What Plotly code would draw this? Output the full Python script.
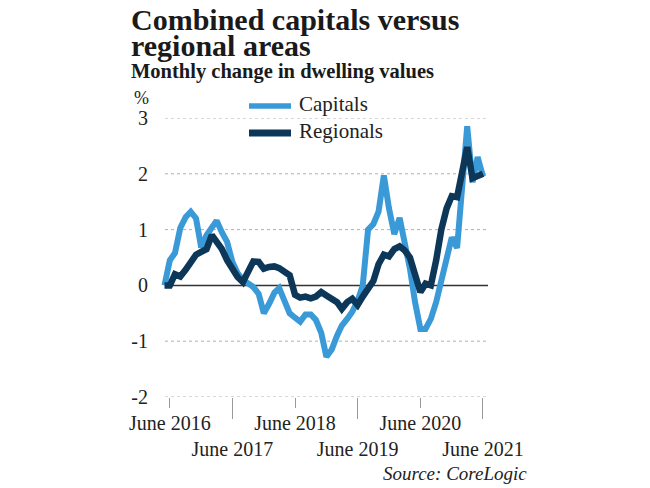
import plotly.graph_objects as go
import pandas as pd

# ---- data (monthly % change, May 2016 - June 2021) ----
start_month = "2016-05-01"
n_months = 62
capitals = [0.0, 0.45, 0.58, 1.03, 1.22, 1.32, 1.2, 0.68, 0.9, 1.03,
            1.16, 0.95, 0.78, 0.42, 0.22, 0.1, 0.03, -0.03, -0.15, -0.5,
            -0.33, -0.13, -0.05, -0.25, -0.5, -0.58, -0.65, -0.52, -0.52, -0.62,
            -0.85, -1.28, -1.15, -0.9, -0.72, -0.6, -0.47, -0.28, 0.0, 1.0,
            1.1, 1.32, 1.97, 1.38, 0.92, 1.21, 0.8, 0.3, -0.3, -0.78,
            -0.78, -0.6, -0.3, 0.1, 0.5, 0.86, 0.67, 1.7, 2.85, 1.85,
            2.3, 1.95]
regionals = [0.0, 0.0, 0.2, 0.16, 0.28, 0.42, 0.55, 0.6, 0.65, 0.9,
             0.78, 0.65, 0.45, 0.28, 0.15, 0.06, 0.22, 0.43, 0.42, 0.3,
             0.33, 0.34, 0.31, 0.26, 0.18, -0.17, -0.22, -0.2, -0.23, -0.2,
             -0.12, -0.18, -0.24, -0.3, -0.42, -0.3, -0.24, -0.35, -0.2, -0.07,
             0.08, 0.38, 0.55, 0.52, 0.65, 0.7, 0.63, 0.5, 0.2, -0.12,
             0.03, 0.0, 0.45, 1.0, 1.38, 1.6, 1.58, 2.0, 2.48, 1.92,
             1.96, 2.0]
tick_dates = ["2016-06-01", "2017-06-01", "2018-06-01", "2019-06-01", "2020-06-01", "2021-06-01"]
tick_labels = ["June 2016", "<br>June 2017", "June 2018", "<br>June 2019", "June 2020", "<br>June 2021"]
long_tick_dates = ["2017-06-01", "2019-06-01", "2021-06-01"]
y_ticks = [-2, -1, 0, 1, 2, 3]
grid_levels = [-2, -1, 1, 2, 3]

months = pd.date_range(start_month, periods=n_months, freq="MS")

# ---- layout geometry (pixels) ----
W, H = 650, 488
L, R, T, B = 152, 492, 118, 397
FONT = "Liberation Serif"
LIGHT = "#3a9ad8"
DARK = "#0c3758"

px_per_day = 5.22 / 30.4375
first_px = 164.5
x0 = pd.Timestamp(start_month)
x_range = [x0 - pd.Timedelta(days=(first_px - L) / px_per_day),
           x0 + pd.Timedelta(days=(R - first_px) / px_per_day)]


def xp(px):
    return (px - L) / (R - L)


def yp(py):
    return (B - py) / (B - T)


fig = go.Figure()
fig.add_trace(go.Scatter(x=months, y=capitals, mode="lines", name="Capitals",
                         line=dict(color=LIGHT, width=6), showlegend=False))
fig.add_trace(go.Scatter(x=months, y=regionals, mode="lines", name="Regionals",
                         line=dict(color=DARK, width=6.5), showlegend=False))

shapes = []
for g in grid_levels:
    shapes.append(dict(type="line", xref="paper", yref="y", x0=xp(165), x1=xp(488), y0=g, y1=g,
                       line=dict(color="#b0b0b0", width=1, dash="dot"), layer="below"))
shapes.append(dict(type="line", xref="paper", yref="y", x0=xp(170), x1=xp(488), y0=0, y1=0,
                   line=dict(color="#333333", width=1.5), layer="below"))
# legend swatches
shapes.append(dict(type="line", xref="paper", yref="paper", x0=xp(249), x1=xp(291), y0=yp(106), y1=yp(106),
                   line=dict(color=LIGHT, width=5.5)))
shapes.append(dict(type="line", xref="paper", yref="paper", x0=xp(249), x1=xp(291), y0=yp(133), y1=yp(133),
                   line=dict(color=DARK, width=7)))

annotations = [
    dict(text="<b>Combined capitals versus</b>", x=xp(129), y=yp(19), xanchor="left", yanchor="middle",
         font=dict(family=FONT, size=30, color="#1a1a1a")),
    dict(text="<b>regional areas</b>", x=xp(129), y=yp(45), xanchor="left", yanchor="middle",
         font=dict(family=FONT, size=30, color="#1a1a1a")),
    dict(text="<b>Monthly change in dwelling values</b>", x=xp(129), y=yp(71), xanchor="left", yanchor="middle",
         font=dict(family=FONT, size=20.5, color="#1a1a1a")),
    dict(text="%", x=xp(141), y=yp(98), xanchor="center", yanchor="middle",
         font=dict(family=FONT, size=18, color="#222222")),
    dict(text="Capitals", x=xp(297), y=yp(104), xanchor="left", yanchor="middle",
         font=dict(family=FONT, size=21, color="#222222")),
    dict(text="Regionals", x=xp(297), y=yp(131), xanchor="left", yanchor="middle",
         font=dict(family=FONT, size=21, color="#222222")),
    dict(text="<i>Source: CoreLogic</i>", x=xp(529), y=yp(473), xanchor="right", yanchor="middle",
         font=dict(family=FONT, size=19, color="#222222")),
]
for a in annotations:
    a.update(xref="paper", yref="paper", showarrow=False)

fig.update_layout(
    width=W, height=H,
    margin=dict(l=L, r=W - R, t=T, b=H - B),
    paper_bgcolor="white", plot_bgcolor="white",
    shapes=shapes, annotations=annotations,
    font=dict(family=FONT, color="#222222"),
    hovermode=False,
    xaxis=dict(type="date", range=x_range, tickvals=tick_dates, ticktext=tick_labels,
               tickangle=0, ticks="outside", ticklen=10, tickcolor="#999999", tickwidth=1,
               ticklabelstandoff=-2,
               showgrid=False, zeroline=False, showline=False,
               tickfont=dict(family=FONT, size=20, color="#222222"),
               minor=dict(tickvals=long_tick_dates, ticks="outside", ticklen=21,
                          tickcolor="#999999", tickwidth=1, showgrid=False)),
    yaxis=dict(range=[-2, 3], tickvals=y_ticks, ticktext=[str(v) for v in y_ticks],
               showgrid=False, zeroline=False, showline=False, ticks="",
               ticklabelstandoff=3,
               tickfont=dict(family=FONT, size=20, color="#222222")),
)

fig.write_html("out.html", config={"displayModeBar": False, "staticPlot": True},
               post_script="document.body.style.margin='0px';document.body.style.overflow='hidden';")
